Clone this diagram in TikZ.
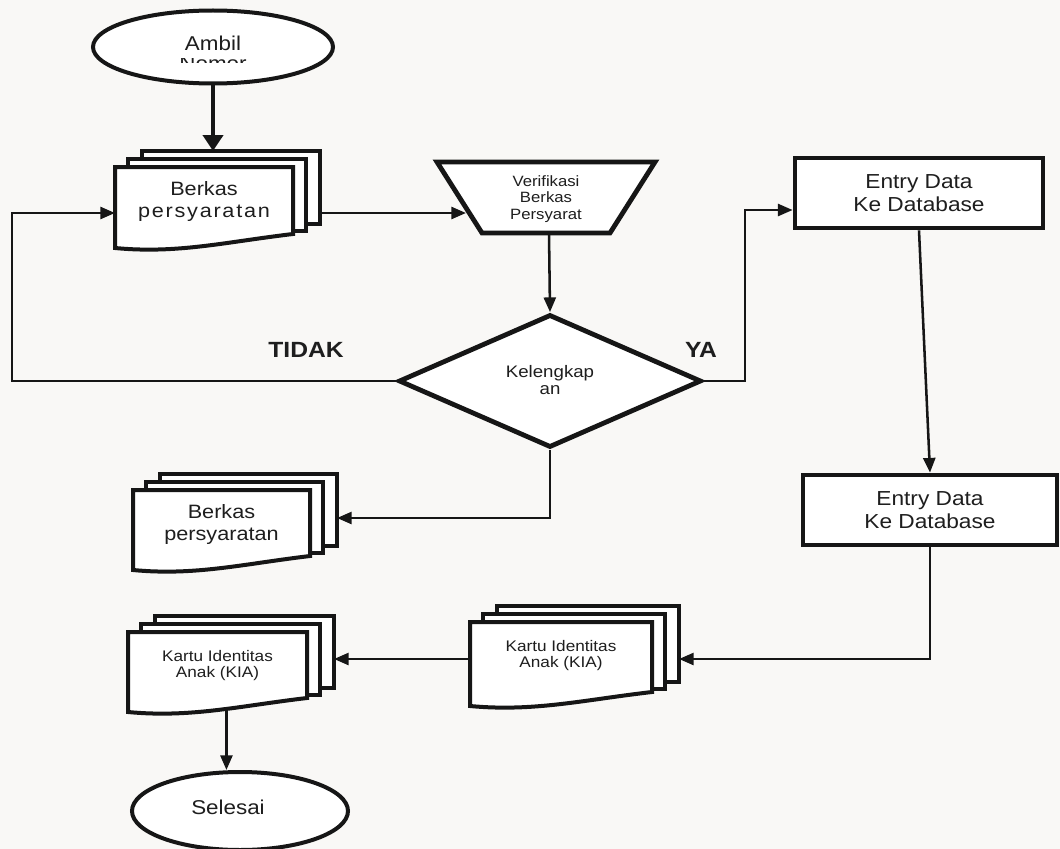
\documentclass[tikz,border=0pt]{standalone}
\usepackage{fontspec}
\setmainfont{Liberation Sans}[FakeStretch=1.12]
\usetikzlibrary{shapes.geometric,arrows.meta,calc}

\definecolor{paper}{RGB}{249,248,246}
\definecolor{ink}{RGB}{22,22,22}
\definecolor{txt}{RGB}{30,30,30}

\newcommand\fs[2]{\fontsize{#1}{#2}\selectfont}

\tikzset{
  outline/.style={draw=ink, line width=3.6pt, fill=white, line join=miter},
  oval/.style={ellipse, draw=ink, line width=3pt, fill=white, inner sep=0pt},
  sheet/.style={draw=ink, line width=3pt, fill=white, line join=miter},
  flow/.style={draw=ink, line width=1.9pt, -{Triangle[length=11pt,width=9pt]}},
  label/.style={text=txt, align=center, inner sep=0pt},
  answer/.style={text=txt, inner sep=0pt, font=\fs{16.5}{18}\bfseries},
  bigdoc/.style={font=\fs{14.5}{16.5}},
  smalldoc/.style={font=\fs{11.5}{12}},
}

% Stack of three documents: #1 text style, #2 name, #3 front top-left corner,
% #4 width, #5 height of front sheet (left side), #6 connector height, #7 text
\newcommand\docstack[7]{%
  \begin{scope}[shift={#3}]
    \draw[sheet] (27,-16) rectangle (#4+27,#5-24);
    \draw[sheet] (13,-8) rectangle (#4+13,#5-17);
    \draw[sheet] (0,0) -- (#4,0) -- (#4,#5-14)
      .. controls (0.62*#4,#5-6) and (0.35*#4,#5+6) .. (0,#5) -- cycle;
    \node[label, #1] (#2) at (0.5*#4,34) {#7};
    \coordinate (#2-l) at (0,#6);
    \coordinate (#2-r) at (#4+27,#6);
    \coordinate (#2-t) at (0.5*#4+13,-16);
    \coordinate (#2-b) at (0.55*#4,#5-3);
  \end{scope}}

\begin{document}
\begin{tikzpicture}[x=0.75pt,y=-0.75pt]
  \fill[paper] (0,0) rectangle (1060,849);
  \useasboundingbox (0,0) rectangle (1060,849);

  % start (second line hidden by the lower edge of the oval)
  \node[oval, minimum width=180pt, minimum height=54.75pt] (amb) at (213,47) {};
  \node[label, font=\fs{15}{18}] (ambT) at (213,43) {Ambil};
  \begin{scope}
    \clip (150,58.5) rectangle (280,62.5);
    \node[label, font=\fs{15}{18}] (ambN) at (213,63.5) {Nomor};
  \end{scope}

  % document stacks
  \docstack{bigdoc}{b1}{(115,167)}{178}{81}{46}{Berkas\\\addfontfeature{LetterSpace=9}persyaratan}
  \docstack{bigdoc}{b2}{(133,490)}{177}{80}{28}{Berkas\\persyaratan}
  \docstack{smalldoc}{k1}{(128,632)}{179}{80}{25}{Kartu Identitas\\Anak (KIA)}
  \docstack{smalldoc}{k2}{(470,622)}{182}{84}{37}{Kartu Identitas\\Anak (KIA)}

  % manual check (wide at the top)
  \draw[outline] (437,162) -- (655,162) -- (610,233) -- (482,233) -- cycle;
  \node[label, font=\fs{11.2}{12.2}] (verif) at (546,199) {Verifikasi\\Berkas\\Persyarat};
  \coordinate (vin) at (466,213);
  \coordinate (vout) at (549,233);

  % decision
  \node[diamond, outline, minimum width=227pt, minimum height=99.75pt, inner sep=0pt] (kel) at (550,381) {};
  \node[label, font=\fs{12.5}{12.75}] (kelT) at (550,380) {Kelengkap\\an};
  \node[answer] (tidak) at (306,350) {TIDAK};
  \node[answer] (ya) at (701,350) {YA};

  % data entry
  \node[rectangle, outline, minimum width=186pt, minimum height=52.5pt, label, font=\fs{15.2}{17.5}]
    (e1) at (919,193) {Entry Data\\Ke Database};
  \node[rectangle, outline, minimum width=190.5pt, minimum height=52.5pt, label, font=\fs{15.2}{17.5}]
    (e2) at (930,510) {Entry Data\\Ke Database};

  % end
  \node[oval, minimum width=162pt, minimum height=58.5pt] (sel) at (240,811) {};
  \node[label, font=\fs{15}{18}] (selT) at (228,807) {Selesai};

  % connectors
  \coordinate (loopL) at (12,213);
  \coordinate (yaTurn) at (745,210);
  \draw[flow, line width=3pt, -{Triangle[length=12pt,width=15pt]}] (amb.south) -- (amb.south |- b1-t);
  \draw[flow] (b1-r) -- (b1-r -| vin);
  \draw[flow] (vout) -- (kel.north);
  \draw[flow] (kel.west) -| (loopL) -- (b1-l);
  \draw[flow] (kel.east) -| (yaTurn) -- (yaTurn -| e1.west);
  \draw[flow] (kel.south) |- (b2-r);
  \draw[flow] (e1.south) -- (e2.north);
  \draw[flow] (e2.south) |- (k2-r);
  \draw[flow] (k2-l) -- (k2-l -| k1-r);
  \draw[flow] (k1-b) -- (k1-b |- sel.north);
\end{tikzpicture}
\end{document}
